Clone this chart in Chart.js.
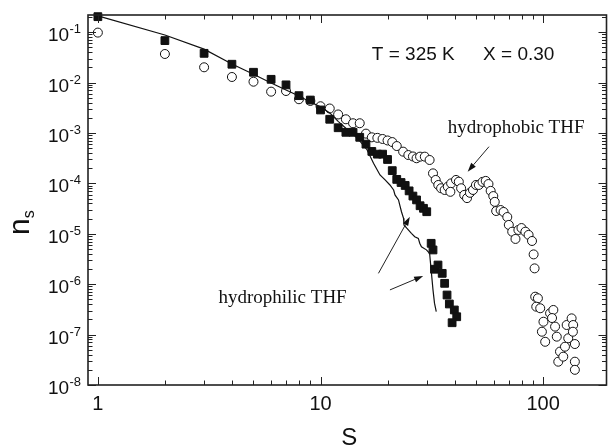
<!DOCTYPE html>
<html><head><meta charset="utf-8">
<script src="https://cdn.jsdelivr.net/npm/chart.js@4/dist/chart.umd.min.js"></script>
<style>html,body{margin:0;padding:0;background:#fff}canvas{display:block}</style>
</head><body>
<canvas id="c" width="613" height="448"></canvas>
<script>
// ---- data ----
const lineS = [1,2,3,4,5,6,7,8,9,10,11,12,13,14,15,16.2,17.3,18.5,19.5,20.5,21.3,21.6,22.4,22.7,23.1,23.6,23.7,24.4,25.6,26.5,27.5,27.9,28.4,29.9,30.9,31.1,31.5,32.0,32.5,33.1];
const lineN = [0.21,0.088,0.046,0.0234,0.0146,0.0098,0.0071,0.0054,0.0041,0.0033,0.0025,0.0017,0.00124,0.00095,0.0007,0.00046,0.00025,0.000147,0.000117,0.000093,0.000074,0.000059,0.000047,0.000037,0.0000274,0.0000203,0.000015,0.0000129,0.0000102,0.00000875,0.0000081,0.0000065,0.0000055,0.0000048,0.0000041,0.000003,0.00000164,0.00000077,0.00000042,0.000000285];

const squareS = [1,2,3,4,5,6,7,8,9,10,11,12,13,14,15,16,17,18,19,20,21,22,23,24,25,26,27,28,29,30,31.4,32,32.5,33.7,35.2,36.1,37,37.9,39.9,40.9,39];
const squareN = [0.203,0.068,0.038,0.0231,0.016,0.0116,0.009,0.0055,0.0045,0.00286,0.00187,0.00127,0.00103,0.00103,0.00082,0.0006,0.00043,0.00038,0.00038,0.000298,0.000179,0.00012,0.000104,0.000091,0.000071,0.000056,0.000047,0.000036,0.000032,0.0000274,6.47e-6,4.78e-6,1.98e-6,2.40e-6,1.64e-6,1.04e-6,6.1e-7,4.05e-7,3.08e-7,2.26e-7,1.72e-7];

const circleS = [1,2,3,4,5,6,7,8,9,10,11,12,13,14,15,16,17,18,19,20,21,22,23.5,24.8,26,27,28,29.4,30.9,32,32.9,33.8,34.8,36.1,37.3,38.6,38.3,40.6,41.8,42.8,44.2,45.5,46.9,48.4,49.9,51.4,53.4,55.2,56.8,58.1,59.7,60.6,61.5,64.4,66.4,69,70.1,72.6,75.1,77.4,79.9,83.2,86,89.1,90.6,91.5,92.1,94.7,93.1,97,100.3,98.7,102.1,107.4,111.1,109.6,113.1,115.1,119,116.9,123.1,125.3,127.5,129.6,134.2,136.4,136,138.8,138.8,138.8];
const circleN = [0.098,0.0369,0.0201,0.0129,0.0104,0.0066,0.0068,0.00467,0.00432,0.00339,0.00306,0.00233,0.00187,0.00156,0.00156,0.00097,0.00082,0.0008,0.00076,0.00071,0.00066,0.00055,4.26e-4,3.65e-4,3.42e-4,3.15e-4,3.39e-4,3.39e-4,2.91e-4,1.58e-4,1.17e-4,9.3e-5,8.0e-5,7.4e-5,8.6e-5,1.0e-4,6.8e-5,1.17e-4,1.08e-4,8.0e-5,5.9e-5,5.1e-5,6.5e-5,7.4e-5,9.3e-5,9.3e-5,1.07e-4,1.12e-4,9.7e-5,7.1e-5,5.6e-5,4.3e-5,2.83e-5,2.96e-5,2.71e-5,2.15e-5,1.5e-5,1.1e-5,7.9e-6,1.19e-5,1.3e-5,1.1e-5,9.5e-6,7.2e-6,3.9e-6,2.06e-6,5.65e-7,5.25e-7,3.58e-7,3.33e-7,1.8e-7,1.14e-7,7.2e-8,2.65e-7,3.08e-7,2.13e-7,1.44e-7,9.1e-8,4.6e-8,2.9e-8,3.65e-8,5.75e-8,1.55e-7,8.45e-8,2.1e-7,1.55e-7,1.14e-7,6.5e-8,2.9e-8,2.0e-8];

const xTickValues = [1,10,100];
const xTickLabels = ['1','10','100'];
const yTickExponents = [-8,-7,-6,-5,-4,-3,-2,-1];

const X_MIN = 0.903, X_MAX = 192.5, Y_MIN = 1e-8, Y_MAX = 0.219;

// annotation texts and arrows, placed in data coordinates
const noteTexts = [
  {text:'T = 325 K', s:17.0, n:0.028, serif:false},
  {text:'X = 0.30', s:53.7, n:0.028, serif:false},
  {text:'hydrophobic THF', s:37.3, n:1.0e-3, serif:true},
  {text:'hydrophilic THF', s:3.48, n:4.24e-7, serif:true}
];
const noteArrows = [
  {from:[57.1,5.35e-4], to:[45.8,1.71e-4]},
  {from:[18.2,1.64e-6], to:[25.2,2.18e-5]},
  {from:[20.5,7.7e-7], to:[28.9,1.46e-6]}
];

const SANS = '"Liberation Sans", Arial, sans-serif';
const SERIF = '"Liberation Serif", "Times New Roman", serif';
const MAJOR = 8, MINOR = 4.5;

function pts(xs, ys){ return xs.map((v,i)=>({x:v, y:ys[i]})); }

const axesPlugin = {
  id:'axes',
  afterDraw(chart){
    const {ctx, chartArea:a} = chart;
    const xs = chart.scales.x, ys = chart.scales.y;
    ctx.save();
    ctx.strokeStyle = '#222';
    ctx.fillStyle = '#111';
    ctx.lineWidth = 1;
    const seg=(x1,y1,x2,y2)=>{ctx.beginPath();ctx.moveTo(x1,y1);ctx.lineTo(x2,y2);ctx.stroke();};
    // x ticks (bottom + top, pointing inward)
    for (let e=-1;e<=3;e++) for (let k=1;k<10;k++){
      const v=k*Math.pow(10,e);
      if (v<xs.min||v>xs.max) continue;
      const px=Math.round(xs.getPixelForValue(v))+0.5;
      const L = k===1?MAJOR:MINOR;
      seg(px,a.bottom,px,a.bottom-L); seg(px,a.top,px,a.top+L);
    }
    // y ticks (left + right)
    for (let e=-9;e<=0;e++) for (let k=1;k<10;k++){
      const v=k*Math.pow(10,e);
      if (v<ys.min*0.999||v>ys.max) continue;
      const py=Math.round(ys.getPixelForValue(v))+0.5;
      const L = k===1?MAJOR:MINOR;
      seg(a.left,py,a.left+L,py); seg(a.right,py,a.right-L,py);
    }
    // frame
    ctx.lineWidth=1.6;
    ctx.strokeRect(a.left,a.top,a.right-a.left,a.bottom-a.top);

    // y tick labels 10^e
    ctx.textBaseline='alphabetic';
    ctx.textAlign='left';
    yTickExponents.forEach(e=>{
      const py = ys.getPixelForValue(Math.pow(10,e));
      ctx.font = '19px '+SANS;
      ctx.fillText('10', a.left-40, py+9);
      ctx.font = '13px '+SANS;
      ctx.fillText(String(e), a.left-18.5, py+1);
    });
    // x tick labels
    ctx.font='20px '+SANS; ctx.textAlign='center';
    xTickValues.forEach((v,i)=> ctx.fillText(xTickLabels[i], xs.getPixelForValue(v), a.bottom+25));
    // axis titles
    ctx.font='24px '+SANS;
    ctx.fillText('S', (a.left+a.right)/2+2, a.bottom+60);
    ctx.save();
    ctx.translate(28.5, 235);
    ctx.rotate(-Math.PI/2);
    ctx.textAlign='left';
    ctx.font='30px '+SANS;
    ctx.fillText('n', 0, 0);
    const w = ctx.measureText('n').width;
    ctx.font='16px '+SANS;
    ctx.fillText('s', w, 5);
    ctx.restore();

    // notes
    ctx.textAlign='left';
    noteTexts.forEach(t=>{
      ctx.font = t.serif ? '19px '+SERIF : '19px '+SANS;
      ctx.fillText(t.text, xs.getPixelForValue(t.s), ys.getPixelForValue(t.n));
    });
    ctx.lineWidth=1;
    noteArrows.forEach(ar=>{
      const x1=xs.getPixelForValue(ar.from[0]), y1=ys.getPixelForValue(ar.from[1]);
      const x2=xs.getPixelForValue(ar.to[0]), y2=ys.getPixelForValue(ar.to[1]);
      const ang=Math.atan2(y2-y1,x2-x1);
      const hl=9, hw=3;
      const bx=x2-hl*Math.cos(ang), by=y2-hl*Math.sin(ang);
      seg(x1,y1,bx,by);
      ctx.beginPath();
      ctx.moveTo(x2,y2);
      ctx.lineTo(bx+hw*Math.sin(ang), by-hw*Math.cos(ang));
      ctx.lineTo(bx-hw*Math.sin(ang), by+hw*Math.cos(ang));
      ctx.closePath(); ctx.fill();
    });
    ctx.restore();
  }
};

new Chart(document.getElementById('c'), {
  type:'scatter',
  data:{datasets:[
    {label:'model', data:pts(lineS,lineN), showLine:true, borderColor:'#111', borderWidth:1.2, pointRadius:0, fill:false, tension:0},
    {label:'hydrophilic THF', data:pts(squareS,squareN), pointStyle:'rect', pointRadius:5.5, backgroundColor:'#111', borderColor:'#111', borderWidth:1, clip:false},
    {label:'hydrophobic THF', data:pts(circleS,circleN), pointStyle:'circle', pointRadius:4.5, backgroundColor:'#fff', borderColor:'#111', borderWidth:1, clip:false}
  ]},
  options:{
    responsive:false, animation:false, devicePixelRatio:1, events:[],
    layout:{padding:{left:88,right:1,top:15,bottom:63}},
    plugins:{legend:{display:false}, tooltip:{enabled:false}},
    scales:{
      x:{type:'logarithmic', min:X_MIN, max:X_MAX, display:false, bounds:'data'},
      y:{type:'logarithmic', min:Y_MIN, max:Y_MAX, display:false, bounds:'data'}
    }
  },
  plugins:[axesPlugin]
});
</script>
</body></html>
